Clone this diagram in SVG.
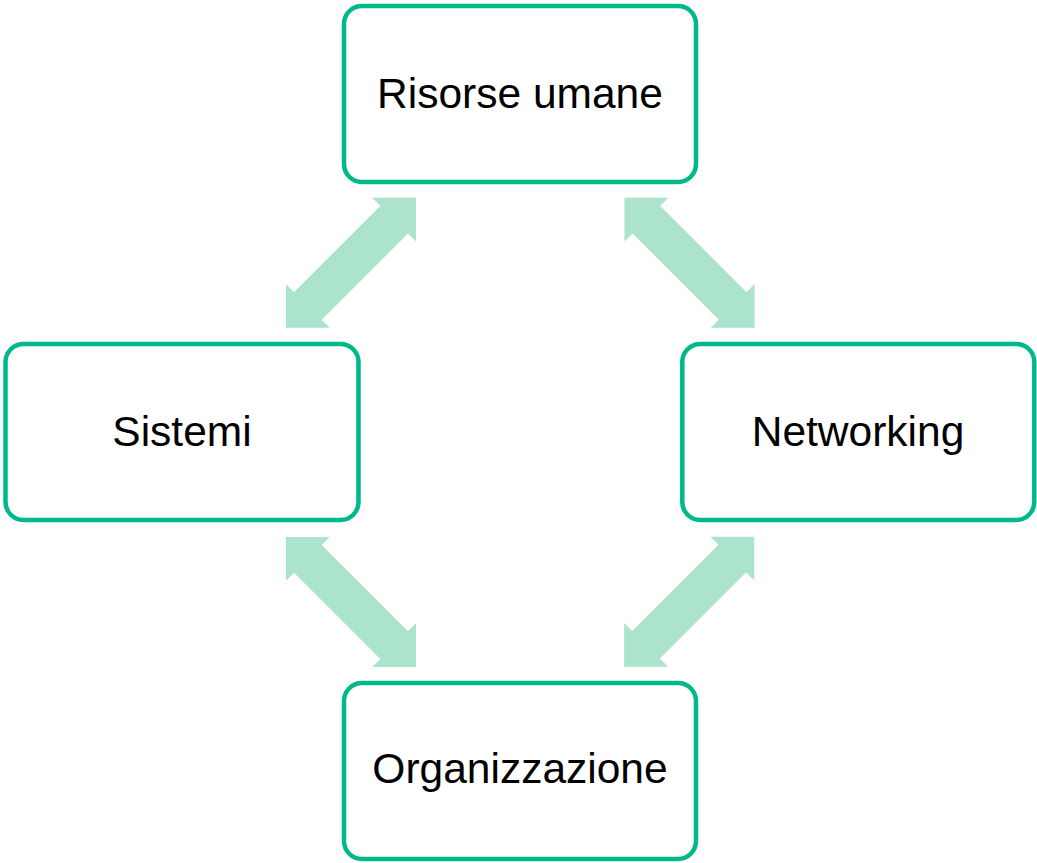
<svg xmlns="http://www.w3.org/2000/svg" width="1037" height="863" viewBox="0 0 1037 863">
<style>
.box{fill:#ffffff;stroke:#00B98B;stroke-width:4.5}
.lbl{font-family:"Liberation Sans",Arial,sans-serif;font-size:42.5px;fill:#000000;text-anchor:middle}
.arr{fill:#ABE3CC}
</style>
<defs>
<path id="dbl" d="M -92 0 L -61 -31 L -61 -19.5 L 61 -19.5 L 61 -31 L 92 0 L 61 31 L 61 19.5 L -61 19.5 L -61 31 Z"/>
</defs>
<rect width="1037" height="863" fill="#ffffff"/>
<g id="connectors">
<use href="#dbl" class="arr" transform="translate(351 262.8) rotate(-45)"/>
<use href="#dbl" class="arr" transform="translate(689.5 262.8) rotate(45)"/>
<use href="#dbl" class="arr" transform="translate(351 602) rotate(45)"/>
<use href="#dbl" class="arr" transform="translate(689.2 601.7) rotate(-45)"/>
</g>
<g id="node-risorse">
<rect class="box" x="344" y="6" width="352" height="176" rx="18"/>
<text class="lbl" x="520" y="107.5">Risorse umane</text>
</g>
<g id="node-sistemi">
<rect class="box" x="5.5" y="344" width="353" height="176" rx="18"/>
<text class="lbl" x="182" y="445.5">Sistemi</text>
</g>
<g id="node-networking">
<rect class="box" x="682.3" y="344" width="352" height="176" rx="18"/>
<text class="lbl" x="858" y="445.5">Networking</text>
</g>
<g id="node-organizzazione">
<rect class="box" x="344" y="683" width="352" height="176" rx="18"/>
<text class="lbl" x="520" y="783">Organizzazione</text>
</g>
</svg>
